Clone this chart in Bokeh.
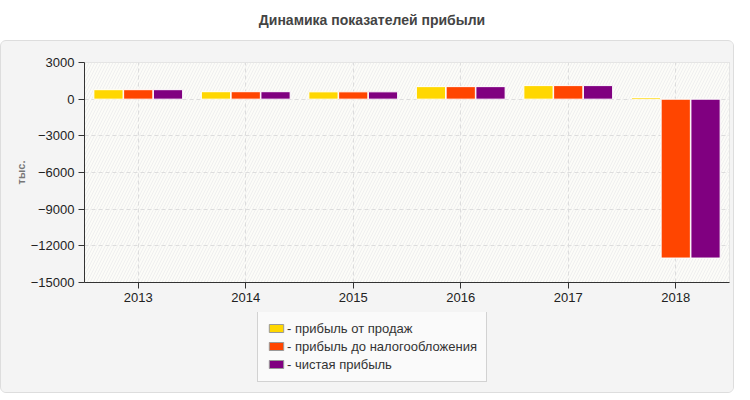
from bokeh.plotting import figure
from bokeh.models import (ColumnDataSource, FixedTicker, Legend, LegendItem,
                          BoxAnnotation, Div)
from bokeh.layouts import column
from bokeh.transform import dodge
from bokeh.embed import file_html
from bokeh.resources import INLINE

FONT = "Liberation Sans"
PANEL = "#f4f4f4"

years = ["2013", "2014", "2015", "2016", "2017", "2018"]
sales_profit = [775, 610, 600, 1025, 1110, 140]
pretax_profit = [775, 610, 600, 1025, 1110, -13000]
net_profit = [775, 610, 600, 1025, 1110, -13000]
y_ticks = [3000, 0, -3000, -6000, -9000, -12000, -15000]

series = [
    ("sales", "- прибыль от продаж", "#ffd700", -0.277),
    ("pretax", "- прибыль до налогообложения", "#ff4500", 0.0),
    ("net", "- чистая прибыль", "#800080", 0.277),
]

source = ColumnDataSource(data={
    "year": years,
    "sales": sales_profit,
    "pretax": pretax_profit,
    "net": net_profit,
})

title = Div(text="Динамика показателей прибыли", width=734, height=30,
            styles={"font-family": FONT, "font-weight": "bold",
                    "font-size": "14px", "color": "#444444",
                    "text-align": "center", "width": "734px",
                    "line-height": "30px"})

p = figure(x_range=years, y_range=(-15000, 3000), width=732, height=271,
           output_backend="svg", toolbar_location=None,
           min_border_left=83, min_border_right=4, min_border_top=21,
           min_border_bottom=30)
p.border_fill_color = PANEL
p.background_fill_color = "#fcfcf8"
p.outline_line_color = "#dddddd"

# striped plot background
p.add_layout(BoxAnnotation(fill_color="#fcfcf8", fill_alpha=1,
                           hatch_pattern="/", hatch_color="#efefef",
                           hatch_scale=6, hatch_weight=1,
                           line_color=None, level="image"))

for col, label, color, off in series:
    p.vbar(x=dodge("year", off, range=p.x_range), top=col, bottom=0,
           width=0.272, source=source, fill_color=color,
           line_color="white", line_width=1)

p.yaxis.ticker = FixedTicker(ticks=y_ticks)
p.yaxis.axis_label = "тыс."
p.yaxis.axis_label_text_font = FONT
p.yaxis.axis_label_text_font_size = "11px"
p.yaxis.axis_label_text_font_style = "bold"
p.yaxis.axis_label_text_color = "#777777"
p.yaxis.axis_label_standoff = 1

for ax in (p.xaxis, p.yaxis):
    ax.axis_line_color = "#333333"
    ax.major_tick_line_color = "#333333"
    ax.major_tick_out = 6
    ax.major_tick_in = 0
    ax.minor_tick_line_color = None
    ax.major_label_text_font = FONT
    ax.major_label_text_font_size = "13px"
    ax.major_label_text_color = "#222222"
    ax.major_label_standoff = 4

p.grid.grid_line_color = "#dddddd"
p.grid.grid_line_dash = "4 3"
p.grid.grid_line_width = 1

# legend lives in its own strip under the chart
lg = figure(width=732, height=80, x_range=(0, 1), y_range=(0, 1),
            output_backend="svg", toolbar_location=None,
            min_border=0, outline_line_color=None)
lg.border_fill_color = PANEL
lg.background_fill_color = PANEL
lg.axis.visible = False
lg.grid.visible = False

items = []
for col, label, color, off in series:
    r = lg.vbar(x=[0.5], top=[0.5], width=0.1, fill_color=color,
                line_color="#999999", visible=False)
    items.append(LegendItem(label=label, renderers=[r]))

legend = Legend(items=items, location=(173, 10), orientation="vertical")
legend.background_fill_color = "#fafafa"
legend.background_fill_alpha = 1
legend.border_line_color = "#aaaaaa"
legend.padding = 9
legend.spacing = 2
legend.label_height = 16
legend.glyph_height = 10
legend.glyph_width = 18
legend.label_standoff = 2
legend.label_text_font = FONT
legend.label_text_font_size = "13px"
legend.label_text_color = "#333333"
lg.add_layout(legend, "center")

panel = column(p, lg, styles={"border": "1px solid #dddddd",
                              "border-radius": "6px", "overflow": "hidden",
                              "background-color": PANEL})
layout = column(title, panel)
open("out.html", "w").write(file_html(layout, INLINE))
